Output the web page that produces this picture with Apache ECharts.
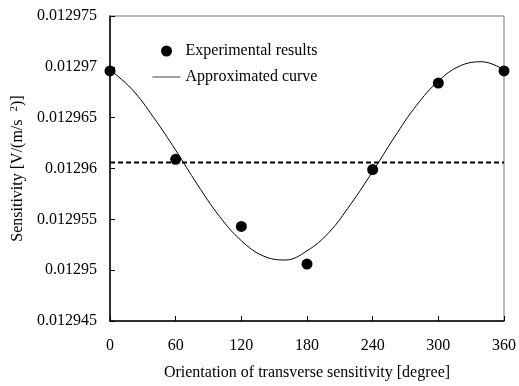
<!DOCTYPE html>
<html>
<head>
<meta charset="utf-8">
<script src="https://cdn.jsdelivr.net/npm/echarts@6/dist/echarts.min.js"></script>
<style>html,body{margin:0;padding:0;background:#fff}#c{width:519px;height:386px}</style>
</head>
<body>
<div id="c"></div>
<script>
const orientations = [0, 60, 120, 180, 240, 300, 360];
const experimental = [0.0129696, 0.0129609, 0.0129543, 0.0129506, 0.0129599, 0.0129684, 0.0129696];
const curveX = [0, 20, 40, 60, 80, 100, 120, 140, 160, 180, 200, 220, 240, 260, 280, 300, 320, 340, 360];
const curveY = [0.0129697, 0.0129678, 0.0129650, 0.0129618, 0.0129584, 0.0129553, 0.0129529, 0.0129514, 0.0129510, 0.0129519, 0.0129537, 0.0129565, 0.0129597, 0.0129631, 0.0129662, 0.0129686, 0.0129701, 0.0129705, 0.0129697];
const meanLevel = 0.0129606;
const xTicks = ['0', '60', '120', '180', '240', '300', '360'];
const yTicks = ['0.012945', '0.01295', '0.012955', '0.01296', '0.012965', '0.01297', '0.012975'];

const font = 'Liberation Serif, Times New Roman, serif';
const chart = echarts.init(document.getElementById('c'), null, {renderer: 'canvas'});
chart.setOption({
  animation: false,
  backgroundColor: '#fff',
  grid: {left: 110, right: 11, top: 16, bottom: 63, show: true, borderColor: '#777', borderWidth: 1},
  legend: {
    orient: 'vertical', left: 147, top: 38, itemWidth: 28, itemHeight: 11, itemGap: 10,
    textStyle: {fontFamily: font, fontSize: 16, color: '#000'},
    lineStyle: {width: 1, color: '#444'},
    data: [
      {name: 'Experimental results', icon: 'circle'},
      {name: 'Approximated curve', itemStyle: {color: 'rgba(0,0,0,0)', borderWidth: 0, opacity: 0}}
    ]
  },
  xAxis: {
    type: 'value', min: 0, max: 360, interval: 60,
    axisLine: {onZero: false, lineStyle: {color: '#000', width: 1.5}},
    axisTick: {inside: true, length: 5, lineStyle: {color: '#000'}},
    splitLine: {show: false},
    axisLabel: {fontFamily: font, fontSize: 16, color: '#000', margin: 17,
      formatter: (v) => { const i = orientations.indexOf(v); return i >= 0 ? xTicks[i] : ''; }},
    name: 'Orientation of transverse sensitivity [degree]', nameLocation: 'middle', nameGap: 44,
    nameTextStyle: {fontFamily: font, fontSize: 16, color: '#000'}
  },
  yAxis: {
    type: 'value', min: 0.012945, max: 0.012975, interval: 0.000005,
    axisLine: {show: true, onZero: false, lineStyle: {color: '#000', width: 1.5}},
    axisTick: {show: true, inside: true, length: 5, lineStyle: {color: '#000'}},
    splitLine: {show: false},
    axisLabel: {fontFamily: font, fontSize: 16, color: '#000', margin: 13,
      formatter: (v) => { const i = Math.round((v - 0.012945) / 0.000005); return yTicks[i] !== undefined ? yTicks[i] : ''; }},
    name: '{a|Sensitivity [V/(m/s  }{s|2}{a|)]}', nameLocation: 'middle', nameGap: 80, nameRotate: 90,
    nameTextStyle: {fontFamily: font, fontSize: 16, color: '#000',
      rich: {a: {fontFamily: font, fontSize: 16, color: '#000'}, s: {fontFamily: font, fontSize: 11, color: '#000', verticalAlign: 'top', padding: [0, 0, 8, 0]}}}
  },
  series: [
    {
      name: 'Mean', type: 'line', data: [[0, meanLevel], [360, meanLevel]],
      symbol: 'none', lineStyle: {color: '#000', width: 2, type: [5, 3]}, silent: true, z: 1
    },
    {
      name: 'Approximated curve', type: 'line', smooth: 0.4,
      data: curveX.map((x, i) => [x, curveY[i]]),
      symbol: 'none', lineStyle: {color: '#000', width: 1}, itemStyle: {color: '#000'}, z: 2
    },
    {
      name: 'Experimental results', type: 'scatter',
      data: orientations.map((x, i) => [x, experimental[i]]),
      symbol: 'circle', symbolSize: 11, itemStyle: {color: '#000', opacity: 1}, z: 3, clip: false
    }
  ]
});
</script>
</body>
</html>
